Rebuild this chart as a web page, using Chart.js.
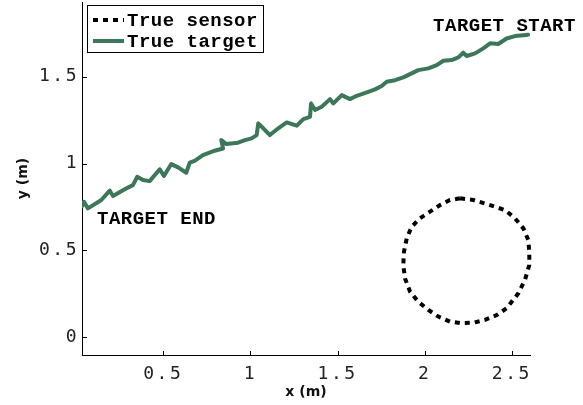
<!DOCTYPE html>
<html>
<head>
<meta charset="utf-8">
<script src="https://cdn.jsdelivr.net/npm/chart.js@4.4.1/dist/chart.umd.min.js"></script>
<style>
  html, body { margin: 0; padding: 0; background: #ffffff; }
  #wrap { width: 583px; height: 405px; }
</style>
</head>
<body>
<div id="wrap"><canvas id="c" width="583" height="405"></canvas></div>
<script>
// Sensor path (closed loop around the sensor position), metres
const sensorX = [2.203, 2.279, 2.375, 2.461, 2.518, 2.566, 2.594, 2.600, 2.600, 2.575, 2.537, 2.470, 2.413, 2.346, 2.279, 2.212, 2.145, 2.078, 2.021, 1.963, 1.916, 1.887, 1.877, 1.881, 1.897, 1.925, 1.973, 2.030, 2.088, 2.145, 2.203];
const sensorY = [0.800, 0.790, 0.761, 0.732, 0.685, 0.627, 0.560, 0.493, 0.416, 0.330, 0.253, 0.167, 0.128, 0.100, 0.084, 0.081, 0.090, 0.119, 0.157, 0.205, 0.262, 0.339, 0.416, 0.493, 0.570, 0.636, 0.685, 0.723, 0.761, 0.790, 0.800];

// Target trajectory, from start (right) to end (left), metres
const targetX = [2.593, 2.566, 2.518, 2.470, 2.422, 2.375, 2.336, 2.289, 2.241, 2.221, 2.193, 2.155, 2.107, 2.069, 2.021, 1.963, 1.925, 1.877, 1.830, 1.782, 1.753, 1.715, 1.676, 1.610, 1.571, 1.524, 1.476, 1.457, 1.409, 1.371, 1.348, 1.342, 1.304, 1.266, 1.208, 1.160, 1.112, 1.074, 1.045, 1.036, 1.007, 0.969, 0.929, 0.862, 0.833, 0.843, 0.795, 0.728, 0.680, 0.652, 0.632, 0.585, 0.546, 0.504, 0.480, 0.422, 0.384, 0.351, 0.326, 0.279, 0.212, 0.193, 0.145, 0.068, 0.045, 0.034];
const targetY = [1.742, 1.739, 1.734, 1.720, 1.688, 1.692, 1.663, 1.634, 1.619, 1.638, 1.611, 1.596, 1.592, 1.567, 1.548, 1.538, 1.519, 1.496, 1.480, 1.471, 1.446, 1.427, 1.413, 1.390, 1.371, 1.394, 1.346, 1.371, 1.327, 1.308, 1.346, 1.269, 1.256, 1.218, 1.237, 1.203, 1.164, 1.203, 1.231, 1.164, 1.145, 1.135, 1.120, 1.112, 1.135, 1.087, 1.074, 1.049, 1.016, 1.005, 0.947, 0.978, 0.997, 0.928, 0.967, 0.899, 0.905, 0.924, 0.876, 0.852, 0.813, 0.844, 0.790, 0.742, 0.780, 0.755];

// Axis ticks and limits
const xTickValues = [0.5, 1, 1.5, 2, 2.5];
const yTickValues = [0, 0.5, 1, 1.5];
const xRange = [0.034, 2.604];
const yRange = [-0.102, 1.93];

const seriesNames = ['True sensor', 'True target'];
const markerLabels = ['TARGET START', 'TARGET END'];

const toPoints = (xs, ys) => xs.map((x, i) => ({ x: x, y: ys[i] }));

const TARGET_GREEN = '#3b7758';
const MONO_BOLD = 'bold 19px "Liberation Mono", "DejaVu Sans Mono", monospace';

// Ticks drawn pointing into the plot area, plus spaced tick-label text
const plotDecor = {
  id: 'plotDecor',
  afterDatasetsDraw(chart) {
    chart.ctx.letterSpacing = '2.5px';
  },
  afterDraw(chart) {
    const ctx = chart.ctx;
    const area = chart.chartArea;
    const xs = chart.scales.x, ys = chart.scales.y;
    ctx.save();
    ctx.letterSpacing = '0px';
    ctx.strokeStyle = '#000';
    ctx.lineWidth = 1;
    ctx.beginPath();
    xs.ticks.forEach(t => {
      const px = Math.round(xs.getPixelForValue(t.value)) + 0.5;
      ctx.moveTo(px, area.bottom);
      ctx.lineTo(px, area.bottom - 4);
    });
    ys.ticks.forEach(t => {
      const py = Math.round(ys.getPixelForValue(t.value)) + 0.5;
      ctx.moveTo(area.left, py);
      ctx.lineTo(area.left + 5, py);
    });
    ctx.stroke();

    // Legend box in the upper-left corner
    const lx = area.left + 5, ly = 5, lw = 176, lh = 47;
    ctx.fillStyle = '#fff';
    ctx.fillRect(lx, ly, lw, lh);
    ctx.strokeStyle = '#000';
    ctx.lineWidth = 1;
    ctx.strokeRect(lx + 0.5, ly + 0.5, lw, lh);

    const ds = chart.data.datasets;
    const rows = [ly + 15, ly + 36];
    ds.forEach((d, i) => {
      ctx.save();
      ctx.strokeStyle = d.borderColor;
      ctx.lineWidth = d.borderWidth;
      ctx.setLineDash(d.borderDash || []);
      ctx.beginPath();
      ctx.moveTo(lx + 6, rows[i]);
      ctx.lineTo(lx + 37, rows[i]);
      ctx.stroke();
      ctx.restore();
      ctx.fillStyle = '#000';
      ctx.font = MONO_BOLD;
      ctx.letterSpacing = '0.5px';
      ctx.textBaseline = 'middle';
      ctx.textAlign = 'left';
      ctx.fillText(d.label, lx + 40, rows[i] + 1);
    });

    // Start / end markers of the target path
    const sx = xs.getPixelForValue(targetX[0]);
    const sy = ys.getPixelForValue(targetY[0]);
    const ex = xs.getPixelForValue(targetX[targetX.length - 1]);
    const ey = ys.getPixelForValue(targetY[targetY.length - 1]);
    ctx.font = MONO_BOLD;
    ctx.letterSpacing = '0.5px';
    ctx.fillStyle = '#000';
    ctx.textBaseline = 'middle';
    ctx.textAlign = 'left';
    ctx.fillText(markerLabels[0], sx - 95, sy - 8);
    ctx.fillText(markerLabels[1], ex + 15, ey + 13);
    ctx.restore();
  }
};

new Chart(document.getElementById('c'), {
  type: 'scatter',
  data: {
    datasets: [
      {
        label: seriesNames[0],
        data: toPoints(sensorX, sensorY),
        showLine: true,
        borderColor: '#000000',
        borderWidth: 4,
        borderDash: [5, 5],
        borderCapStyle: 'butt',
        pointRadius: 0,
        tension: 0,
        clip: { left: 0, right: 6, top: 6, bottom: 6 }
      },
      {
        label: seriesNames[1],
        data: toPoints(targetX, targetY),
        showLine: true,
        borderColor: TARGET_GREEN,
        borderWidth: 4,
        borderJoinStyle: 'round',
        borderCapStyle: 'round',
        pointRadius: 0,
        tension: 0,
        clip: { left: 0, right: 6, top: 6, bottom: 6 }
      }
    ]
  },
  options: {
    responsive: false,
    animation: false,
    devicePixelRatio: 1,
    layout: { padding: { top: 2, right: 53, left: 0, bottom: 0 } },
    plugins: { legend: { display: false }, tooltip: { enabled: false } },
    scales: {
      x: {
        type: 'linear',
        min: xRange[0],
        max: xRange[1],
        afterBuildTicks: s => { s.ticks = xTickValues.map(v => ({ value: v })); },
        afterFit: s => { s.height = 50; s.paddingLeft = 0; s.paddingRight = 0; },
        grid: { display: false, drawTicks: false },
        border: { display: true, color: '#000', width: 1 },
        ticks: {
          z: 1,
          padding: 9,
          color: '#222',
          font: { family: '"DejaVu Sans Mono", monospace', size: 18 },
          callback: v => String(v)
        },
        title: {
          display: true,
          text: 'x (m)',
          color: '#111',
          padding: { top: 0, bottom: 4 },
          font: { family: '"DejaVu Sans", sans-serif', size: 14, weight: 'bold' }
        }
      },
      y: {
        type: 'linear',
        min: yRange[0],
        max: yRange[1],
        afterBuildTicks: s => { s.ticks = yTickValues.map(v => ({ value: v })); },
        afterFit: s => { s.width = 82; s.paddingTop = 0; s.paddingBottom = 0; },
        grid: { display: false, drawTicks: false },
        border: { display: true, color: '#000', width: 1 },
        ticks: {
          z: 1,
          padding: 3,
          color: '#222',
          font: { family: '"DejaVu Sans Mono", monospace', size: 18 },
          callback: v => String(v)
        },
        title: {
          display: true,
          text: 'y (m)',
          color: '#111',
          padding: { top: 15, bottom: 0 },
          font: { family: '"DejaVu Sans", sans-serif', size: 14, weight: 'bold' }
        }
      }
    }
  },
  plugins: [plotDecor]
});
</script>
</body>
</html>
